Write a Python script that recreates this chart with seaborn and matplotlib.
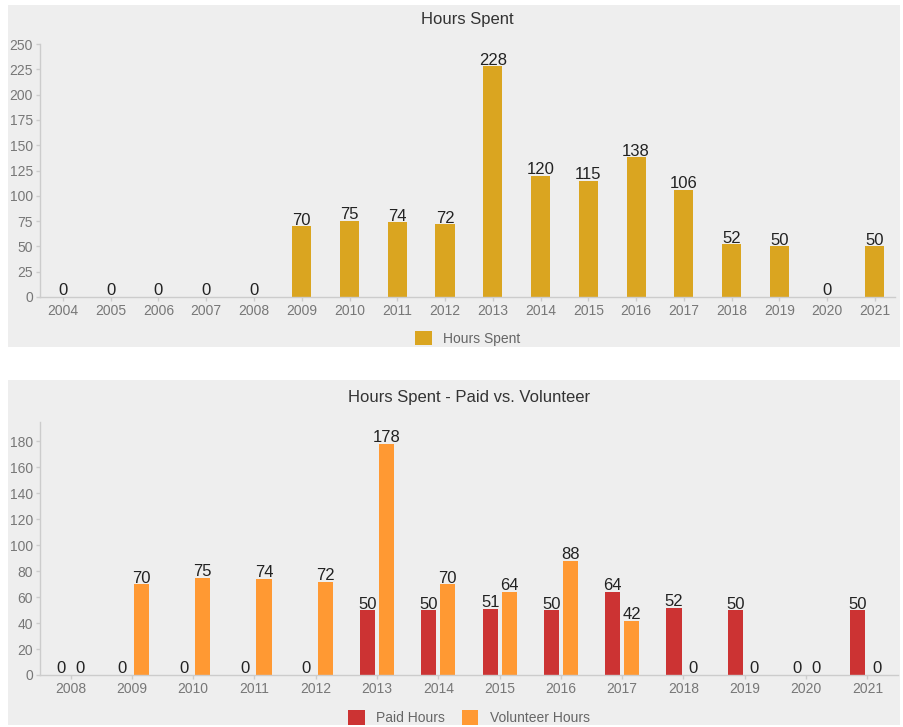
import matplotlib
matplotlib.use('Agg')
import matplotlib.pyplot as plt
import pandas as pd
import seaborn as sns
from matplotlib.patches import Rectangle

# Data
years_all = ['2004', '2005', '2006', '2007', '2008', '2009', '2010', '2011', '2012',
             '2013', '2014', '2015', '2016', '2017', '2018', '2019', '2020', '2021']
hours_spent = [0, 0, 0, 0, 0, 70, 75, 74, 72, 228, 120, 115, 138, 106, 52, 50, 0, 50]

years_split = ['2008', '2009', '2010', '2011', '2012', '2013', '2014',
               '2015', '2016', '2017', '2018', '2019', '2020', '2021']
paid_hours = [0, 0, 0, 0, 0, 50, 50, 51, 50, 64, 52, 50, 0, 50]
volunteer_hours = [0, 70, 75, 74, 72, 178, 70, 64, 88, 42, 0, 0, 0, 0]

sns.set_style('white')
plt.rcParams['font.family'] = ['Liberation Sans', 'DejaVu Sans']

bg = '#eeeeee'
gold = '#DAA520'
red = '#CC3333'
orange = '#FF9933'
tick_col = '#777777'
spine_col = '#cccccc'

fig = plt.figure(figsize=(9.04, 7.27), dpi=100)
fig.patch.set_facecolor('white')
# gray panels behind each chart
for top, bottom in [(5, 347), (380, 725)]:
    fig.patches.append(Rectangle((8 / 904, 1 - bottom / 727), 892 / 904, (bottom - top) / 727,
                                 transform=fig.transFigure, facecolor=bg, edgecolor='none',
                                 zorder=-10))


def style_axes(ax):
    ax.set_facecolor(bg)
    for s in ['top', 'right']:
        ax.spines[s].set_visible(False)
    for s in ['left', 'bottom']:
        ax.spines[s].set_color(spine_col)
        ax.spines[s].set_linewidth(1)
    ax.tick_params(axis='both', colors=spine_col, labelcolor=tick_col, labelsize=10,
                   length=3, width=1, left=True, bottom=True, pad=2)
    ax.set_xlabel('')
    ax.set_ylabel('')


# Top chart
ax1 = fig.add_axes([40 / 904, 1 - 297 / 727, 855 / 904, 253 / 727])
df1 = pd.DataFrame({'Year': years_all, 'Hours Spent': hours_spent})
sns.barplot(data=df1, x='Year', y='Hours Spent', color=gold, saturation=1, width=0.4,
            linewidth=0, ax=ax1, label='Hours Spent')
ax1.set_ylim(0, 250)
ax1.set_yticks(range(0, 251, 25))
ax1.set_xlim(-0.48, 17.42)
style_axes(ax1)
for c in ax1.containers:
    ax1.bar_label(c, fontsize=12, color='#222222', padding=-1)
ax1.set_title('Hours Spent', fontsize=12, color='#333333', pad=0, y=1 + 20 / 253)
ax1.legend(loc='upper center', bbox_to_anchor=(0.5, -0.085), frameon=False, fontsize=10,
           handlelength=1.2, handleheight=1.2, labelcolor='#666666')

# Bottom chart
ax2 = fig.add_axes([40 / 904, 1 - 675 / 727, 858 / 904, 253 / 727])
df2 = pd.DataFrame({
    'Year': years_split * 2,
    'Hours': paid_hours + volunteer_hours,
    'Type': ['Paid Hours'] * len(years_split) + ['Volunteer Hours'] * len(years_split),
})
sns.barplot(data=df2, x='Year', y='Hours', hue='Type', palette=[red, orange],
            saturation=1, width=0.62, gap=0.2, linewidth=0, ax=ax2)
ax2.set_ylim(0, 195)
ax2.set_yticks(range(0, 181, 20))
ax2.set_xlim(-0.5, 13.5)
style_axes(ax2)
for c in ax2.containers:
    ax2.bar_label(c, fontsize=12, color='#222222', padding=-1)
ax2.set_title('Hours Spent - Paid vs. Volunteer', fontsize=12, color='#333333', pad=0,
              y=1 + 20 / 253)
ax2.legend(loc='upper center', bbox_to_anchor=(0.5, -0.09), frameon=False, fontsize=10,
           ncol=2, handlelength=1.2, handleheight=1.2, labelcolor='#666666',
           columnspacing=1.2, title=None)

fig.savefig('out.png', dpi=100, facecolor='white')
